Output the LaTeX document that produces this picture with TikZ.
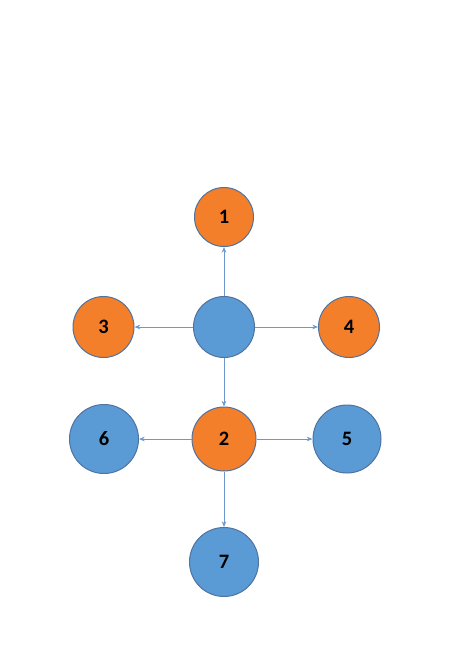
\documentclass[tikz,border=0pt]{standalone}
\usepackage{fontspec}
\setmainfont{Carlito}
\usepackage{xcolor}
\usepackage{tikz}
\usetikzlibrary{arrows.meta, positioning}
\definecolor{offorange}{HTML}{F47F2A}
\definecolor{offblue}{HTML}{5B9BD5}
\definecolor{offedge}{HTML}{4F72A0}
\definecolor{arrowblue}{HTML}{6C98CC}
\tikzset{
    ball/.style={circle, draw=offedge, line width=1pt, inner sep=0pt,
        font=\fontsize{20.5}{24}\selectfont\bfseries, text=black},
    orangeball/.style={ball, fill=offorange},
    blueball/.style={ball, fill=offblue},
    arrow/.style={-{Stealth[length=2mm, width=1.6mm]}, draw=arrowblue, line width=0.8pt},
}

\begin{document}
\begin{tikzpicture}[on grid]
    \useasboundingbox (0pt,0pt) rectangle (464pt,-656pt);
    \node[blueball, minimum size=61pt] (hub) at (224pt,-327pt) {};
    \node[orangeball, minimum size=59pt, above=110pt of hub] (n1) {1};
    \node[orangeball, minimum size=61pt, left=120.5pt of hub] (n3) {3};
    \node[orangeball, minimum size=61pt, right=125pt of hub] (n4) {4};
    \node[orangeball, minimum size=64pt, below=112pt of hub] (n2) {2};
    \node[blueball, minimum size=69pt, left=120pt of n2] (n6) {6};
    \node[blueball, minimum size=68pt, right=123pt of n2] (n5) {5};
    \node[blueball, minimum size=69pt, below=123pt of n2] (n7) {7};
    \draw[arrow] (hub) -- (n1);
    \draw[arrow] (hub) -- (n3);
    \draw[arrow] (hub) -- (n4);
    \draw[arrow] (hub) -- (n2);
    \draw[arrow] (n2) -- (n6);
    \draw[arrow] (n2) -- (n5);
    \draw[arrow] (n2) -- (n7);
\end{tikzpicture}
\end{document}
